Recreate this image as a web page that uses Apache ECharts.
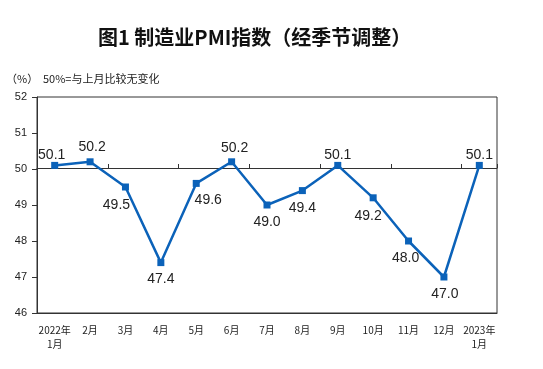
<!DOCTYPE html>
<html>
<head>
<meta charset="utf-8">
<script src="https://cdn.jsdelivr.net/npm/echarts@6/dist/echarts.min.js"></script>
<style>html,body{margin:0;padding:0;background:#fff}#c{width:543px;height:369px}</style>
</head>
<body>
<div id="c"></div>
<script>
const categories = ['2022年\n1月','2月','3月','4月','5月','6月','7月','8月','9月','10月','11月','12月','2023年\n1月'];
const pmiValues = [50.1, 50.2, 49.5, 47.4, 49.6, 50.2, 49.0, 49.4, 50.1, 49.2, 48.0, 47.0, 50.1];
const labelOffsets = [[-3,-10],[2,-15],[-9,18],[0,17],[12,17],[3,-14],[0,17],[0,18],[0,-10],[-5,18],[-3,17],[1,17],[0,-10]];
const yTicks = {min: 46, max: 52, interval: 1};

const chart = echarts.init(document.getElementById('c'), null, {renderer: 'canvas'});
const CJK = '"Noto Sans CJK SC","Liberation Sans",sans-serif';
chart.setOption({
  animation: false,
  backgroundColor: '#fff',
  title: {
    text: '图1 制造业PMI指数（经季节调整）',
    left: 93, top: 22,
    textStyle: {fontFamily: CJK, fontSize: 20, fontWeight: 'bold', color: '#111'}
  },
  graphic: [{
    type: 'text', left: 6, top: 73,
    style: {text: '（%）', font: '11px ' + CJK, fill: '#222'}
  }, {
    type: 'text', left: 43, top: 73,
    style: {text: '50%=与上月比较无变化', font: '11px ' + CJK, fill: '#222'}
  }],
  grid: {left: 37, right: 46, top: 97, bottom: 56, show: true, borderColor: '#333', borderWidth: 1, backgroundColor: 'transparent'},
  xAxis: [{
    type: 'category', data: categories, position: 'bottom',
    axisLine: {show: true, lineStyle: {color: '#333', width: 1}},
    axisTick: {show: false},
    axisLabel: {interval: 0, fontFamily: CJK, fontSize: 10, color: '#222', margin: 10, lineHeight: 14}
  }, {
    type: 'category', data: categories, position: 'bottom', offset: -145,
    axisLine: {show: true, lineStyle: {color: '#333', width: 1}},
    axisTick: {show: true, inside: true, length: 4, lineStyle: {color: '#333'}},
    axisLabel: {show: false}
  }],
  yAxis: {
    type: 'value', min: yTicks.min, max: yTicks.max, interval: yTicks.interval,
    axisLine: {show: true, lineStyle: {color: '#333'}},
    axisTick: {show: true, length: 5, lineStyle: {color: '#333'}},
    splitLine: {show: false},
    axisLabel: {fontFamily: '"Liberation Sans",sans-serif', fontSize: 11, color: '#222', margin: 10}
  },
  series: [{
    type: 'line', xAxisIndex: 0,
    data: pmiValues.map((v, i) => ({
      value: v,
      label: {show: true, position: 'inside', offset: labelOffsets[i]}
    })),
    symbol: 'rect', symbolSize: 7,
    lineStyle: {color: '#0b62b9', width: 2.5},
    itemStyle: {color: '#0b62b9'},
    label: {show: true, formatter: p => p.value.toFixed(1), fontFamily: '"Liberation Sans",sans-serif', fontSize: 14, color: '#222'}
  }]
});
</script>
</body>
</html>
